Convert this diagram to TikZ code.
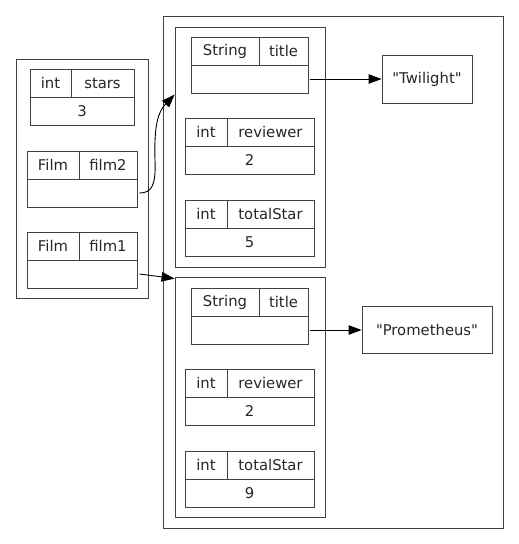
\documentclass[tikz,border=0pt]{standalone}
\usepackage{fontspec}
\setmainfont{DejaVu Sans}
\usetikzlibrary{arrows.meta}
\newcommand\tbl[8]{%
 \pgfmathsetmacro\wa{#3-#2}\pgfmathsetmacro\wb{#4-#3}\pgfmathsetmacro\wc{#4-#2}%
 \pgfmathsetmacro\ca{(#2+#3)/2}\pgfmathsetmacro\cb{(#3+#4)/2}\pgfmathsetmacro\cc{(#2+#4)/2}%
 \pgfmathsetmacro\ya{#5+14}\pgfmathsetmacro\yb{#5+42}%
 \node[cell,minimum width=\wa pt] (#1t) at (\ca,\ya) {#6};
 \node[cell,minimum width=\wb pt] (#1f) at (\cb,\ya) {#7};
 \node[cell,minimum width=\wc pt] (#1v) at (\cc,\yb) {#8};}
\newcommand\qq{\XeTeXglyph\XeTeXcharglyph"22\relax}
\begin{document}
\begin{tikzpicture}[x=1pt,y=-1pt,
  line width=0.9pt,
  txt/.style={font=\fontsize{14.8}{16}\selectfont,text=black!85},
  cell/.style={draw=black!75,inner sep=0pt,minimum height=28pt,txt},
  frame/.style={draw=black!75,inner sep=0pt},
  strbox/.style={draw=black!75,inner sep=0pt,txt},
  arr/.style={draw=black,line width=0.9pt,-{Triangle[length=13pt,width=9.5pt]}}]
\useasboundingbox (0,0) rectangle (519,544);
\fill[white] (0,0) rectangle (519,544);
% frames
\node[frame,minimum width=132pt,minimum height=239pt] (local) at (82,178.5) {};
\node[frame,minimum width=340pt,minimum height=512pt] (heap) at (333,272) {};
\node[frame,minimum width=150pt,minimum height=240pt] (obja) at (250,147) {};
\node[frame,minimum width=150pt,minimum height=240pt] (objb) at (250,397) {};
% local variables
\tbl{stars}{30}{71}{134}{69}{int}{stars}{3}
\tbl{filmb}{27}{79}{137}{151}{Film}{film2}{}
\tbl{filma}{27}{79}{137}{232}{Film}{film1}{}
% object a
\tbl{atitle}{191}{259}{308}{37}{String}{title}{}
\tbl{arev}{185}{227}{314}{118}{int}{reviewer}{2}
\tbl{atot}{185}{227}{314}{200}{int}{totalStar}{5}
% object b
\tbl{btitle}{191}{259}{308}{288}{String}{title}{}
\tbl{brev}{185}{227}{314}{369}{int}{reviewer}{2}
\tbl{btot}{185}{227}{314}{451}{int}{totalStar}{9}
% strings
\node[strbox,minimum width=90pt,minimum height=48pt] (twi) at (427,79) {\qq Twilight\qq};
\node[strbox,minimum width=130pt,minimum height=47pt] (pro) at (427,330) {\qq Prometheus\qq};
% arrows
\draw[arr] ([xshift=2pt]atitlev.east) -- (twi.west);
\draw[arr] ([xshift=2pt]btitlev.east) -- (pro.west);
\draw[arr] ([xshift=2pt]filmbv.east) .. controls (152,193) and (156,185) .. (155,160)
  .. controls (154,125) and (158,112) .. ([yshift=-68pt]obja.north west);
\draw[arr] ([xshift=2pt]filmav.east) -- ([yshift=-2pt]objb.north west);
\end{tikzpicture}
\end{document}
